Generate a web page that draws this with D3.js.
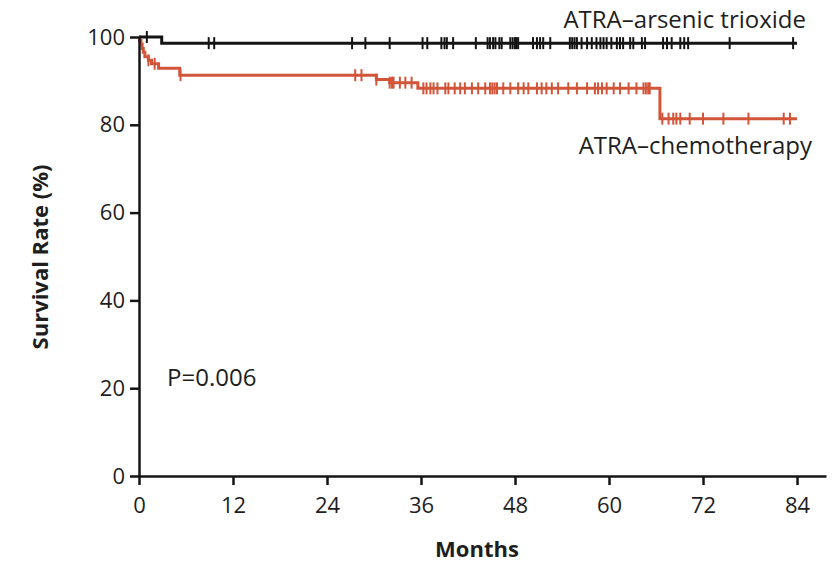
<!DOCTYPE html>
<html><head><meta charset="utf-8">
<script src="https://cdn.jsdelivr.net/npm/d3@7"></script>
<style>
html,body{margin:0;padding:0;background:#fff;}
svg{display:block;font-family:"Open Sans","Noto Sans",sans-serif;}
</style></head>
<body>
<svg id="chart" width="834" height="563"></svg>
<script>
// ---- data ----
const xTicks = [0, 12, 24, 36, 48, 60, 72, 84];
const yTicks = [0, 20, 40, 60, 80, 100];

// ATRA–arsenic trioxide: step times (months) and survival (%)
const atoTimes = [0, 2.9, 84];
const atoSurv  = [100, 98.6, 98.6];
const atoCensor = [1.0, 8.9, 9.6, 27.2, 28.9, 32.0, 36.2, 36.8, 38.6, 39.0, 39.3, 40.1, 43.0,
  44.5, 44.8, 45.2, 45.5, 46.0, 46.3, 47.4, 47.7, 48.0, 48.2, 48.4, 50.3, 50.8, 51.2, 51.6, 52.5,
  55.0, 55.3, 55.6, 55.9, 56.5, 57.2, 57.8, 58.4, 58.9, 59.3, 59.7, 60.3, 61.0, 61.4, 61.8,
  62.7, 63.1, 64.2, 64.6, 66.9, 67.4, 68.0, 69.1, 69.6, 70.1, 75.4, 83.5];

// ATRA–chemotherapy
const chemoTimes = [0, 0.1, 0.25, 0.4, 0.55, 0.75, 1.2, 1.6, 2.5, 5.2, 30.3, 32.0, 35.6, 66.5, 84];
const chemoSurv  = [100, 99.2, 98.4, 97.4, 96.5, 95.5, 94.7, 93.9, 92.9, 91.3, 90.3, 89.6, 88.3, 81.4, 81.4];
const chemoCensor = [1.2, 2.0, 5.3, 27.6, 28.4, 30.3, 32.0, 32.3, 32.5, 33.3, 34.0, 34.8, 36.3, 36.7,
  37.2, 37.6, 38.1, 39.1, 39.5, 40.3, 41.0, 41.6, 42.5, 43.3, 44.2, 44.8, 45.1, 45.4, 45.7, 46.5,
  47.4, 48.4, 49.1, 49.7, 50.8, 51.4, 52.0, 52.7, 53.5, 54.8, 55.9, 57.2, 58.2, 58.6, 59.1, 59.7,
  60.6, 61.4, 62.5, 63.5, 64.4, 64.7, 65.0, 65.2, 66.8, 67.6, 68.2, 68.6, 69.1, 70.3, 72.0, 74.6,
  77.8, 82.3, 83.1];

const seriesNames = ["ATRA\u2013arsenic trioxide", "ATRA\u2013chemotherapy"];
const pText = "P=0.006";
const xTitle = "Months";
const yTitle = "Survival Rate (%)";

// ---- drawing ----
const svg = d3.select("#chart");
const x = d3.scaleLinear().domain([0, 87.7]).range([139, 826]);
const y = d3.scaleLinear().domain([0, 100]).range([476, 37]);

const black = "#141414", red = "#d2553a", textCol = "#1e1e1e";

function stepAt(times, surv, t) {
  let s = surv[0];
  for (let i = 0; i < times.length; i++) if (times[i] <= t) s = surv[i];
  return s;
}

const line = d3.line().x(d => x(d[0])).y(d => y(d[1])).curve(d3.curveStepAfter);

function drawSeries(times, surv, censor, color) {
  const pts = times.map((t, i) => [t, surv[i]]);
  svg.append("path").attr("d", line(pts)).attr("fill", "none")
    .attr("stroke", color).attr("stroke-width", 3);
  svg.append("g").selectAll("line").data(censor).join("line")
    .attr("x1", d => x(d)).attr("x2", d => x(d))
    .attr("y1", d => y(stepAt(times, surv, d)) - 6)
    .attr("y2", d => y(stepAt(times, surv, d)) + 6)
    .attr("stroke", color).attr("stroke-width", 2);
}

drawSeries(chemoTimes, chemoSurv, chemoCensor, red);
drawSeries(atoTimes, atoSurv, atoCensor, black);

// axes
const xAxis = svg.append("g").attr("transform", "translate(0,476)")
  .call(d3.axisBottom(x).tickValues(xTicks).tickSize(9).tickSizeOuter(0).tickPadding(12));
const yAxis = svg.append("g").attr("transform", "translate(139,0)")
  .call(d3.axisLeft(y).tickValues(yTicks).tickSize(9).tickSizeOuter(0).tickPadding(5));
[xAxis, yAxis].forEach(g => {
  g.select(".domain").attr("stroke", black).attr("stroke-width", 2.5);
  g.selectAll(".tick line").attr("stroke", black).attr("stroke-width", 2.5);
  g.selectAll(".tick text").attr("fill", textCol).style("font-size", "22px")
    .style("font-family", "'Open Sans', sans-serif");
});

// labels
svg.append("text").attr("x", 806).attr("y", 28).attr("text-anchor", "end")
  .style("font-size", "24px").attr("fill", textCol).text(seriesNames[0]);
svg.append("text").attr("x", 812).attr("y", 154).attr("text-anchor", "end")
  .style("font-size", "24px").attr("fill", textCol).text(seriesNames[1]);
svg.append("text").attr("x", 167).attr("y", 386)
  .style("font-size", "24px").attr("fill", textCol).text(pText);
svg.append("text").attr("x", 477).attr("y", 557).attr("text-anchor", "middle")
  .style("font-size", "22px").style("font-weight", "bold").attr("fill", textCol).text(xTitle);
svg.append("text").attr("transform", "translate(48,257) rotate(-90)").attr("text-anchor", "middle")
  .style("font-size", "22px").style("font-weight", "bold").attr("fill", textCol).text(yTitle);
</script>
</body></html>
